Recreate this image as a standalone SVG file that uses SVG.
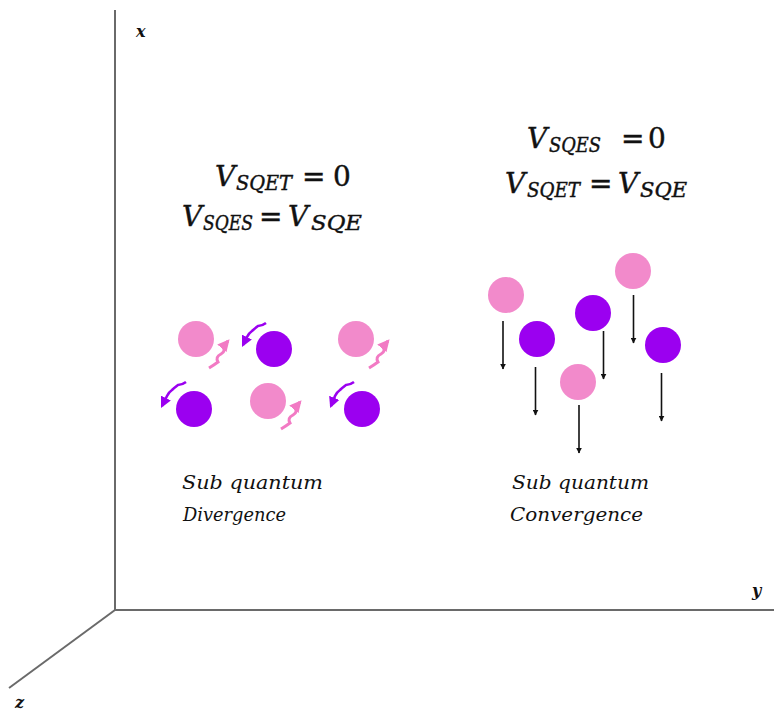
<svg xmlns="http://www.w3.org/2000/svg" width="774" height="711" viewBox="0 0 774 711">
<style>
.axis{stroke:#6a6a6a;stroke-width:2;fill:none}
.pink{fill:#F28ACB}
.purple{fill:#9B00F0}
.drop{stroke:#111;stroke-width:1.6;fill:none}
.eq{font-family:'DejaVu Serif','Liberation Serif',serif;font-size:28px;fill:#111;stroke:#111;stroke-width:0.4}
.it{font-style:italic}
.sub{font-family:'DejaVu Serif','Liberation Serif',serif;font-style:italic;font-size:20px;fill:#111;stroke:#111;stroke-width:0.4}
.lab{font-family:'DejaVu Serif','Liberation Serif',serif;font-style:italic;font-size:18px;fill:#111}
.ax{font-family:'DejaVu Serif','Liberation Serif',serif;font-style:italic;font-weight:bold;font-size:16px;fill:#111}
.parrow{stroke:#F27AC4;stroke-width:3;fill:none}
.varrow{stroke:#9B00F0;stroke-width:2.6;fill:none}
</style>
<defs>
<marker id="blk" viewBox="0 0 10 10" refX="9" refY="5" markerWidth="6" markerHeight="6" markerUnits="userSpaceOnUse" orient="auto"><path d="M0,0 L10,5 L0,10 z" fill="#111"/></marker>
<marker id="pk" viewBox="0 0 10 10" refX="8" refY="5" markerWidth="12" markerHeight="12" markerUnits="userSpaceOnUse" orient="auto"><path d="M0,0 L10,5 L0,10 z" fill="#F27AC4"/></marker>
<marker id="pu" viewBox="0 0 10 10" refX="8" refY="5" markerWidth="11" markerHeight="11" markerUnits="userSpaceOnUse" orient="auto"><path d="M0,0 L10,5 L0,10 z" fill="#9B00F0"/></marker>
</defs>
<rect width="774" height="711" fill="#fff"/>
<g id="axes">
<line class="axis" x1="115" y1="10" x2="115" y2="610"/>
<line class="axis" x1="114" y1="610" x2="774" y2="610"/>
<line class="axis" x1="115" y1="610" x2="9" y2="688" stroke-width="1.6"/>
<text class="ax" x="136" y="37">x</text>
<text class="ax" x="752" y="596">y</text>
<text class="ax" x="15" y="708">z</text>
</g>
<g id="left-equations">
<text class="eq"><tspan class="it" x="215" y="186">V</tspan><tspan class="sub" x="236" y="190" textLength="56" lengthAdjust="spacingAndGlyphs">SQET</tspan><tspan x="302" y="186">=</tspan><tspan x="333" y="186">0</tspan></text>
<text class="eq"><tspan class="it" x="182" y="226">V</tspan><tspan class="sub" x="203" y="230" textLength="50" lengthAdjust="spacingAndGlyphs">SQES</tspan><tspan x="259" y="226">=</tspan><tspan class="it" x="288" y="226">V</tspan><tspan class="sub" x="311" y="230" textLength="51" lengthAdjust="spacingAndGlyphs">SQE</tspan></text>
</g>
<g id="right-equations">
<text class="eq"><tspan class="it" x="527" y="148">V</tspan><tspan class="sub" x="549" y="152" textLength="52" lengthAdjust="spacingAndGlyphs">SQES</tspan><tspan x="621" y="148">=</tspan><tspan x="648" y="148">0</tspan></text>
<text class="eq"><tspan class="it" x="505" y="193">V</tspan><tspan class="sub" x="527" y="197" textLength="53" lengthAdjust="spacingAndGlyphs">SQET</tspan><tspan x="589" y="193">=</tspan><tspan class="it" x="618" y="193">V</tspan><tspan class="sub" x="640" y="197" textLength="47" lengthAdjust="spacingAndGlyphs">SQE</tspan></text>
</g>
<g id="divergence-particles">
<circle class="pink" cx="196" cy="339" r="18"/>
<circle class="purple" cx="274" cy="349" r="18"/>
<circle class="pink" cx="356" cy="339" r="18"/>
<circle class="purple" cx="194" cy="409" r="18"/>
<circle class="pink" cx="268" cy="401" r="18"/>
<circle class="purple" cx="362" cy="409" r="18"/>
</g>
<g id="connectors">
<path class="parrow" marker-end="url(#pk)" d="M209,368 Q214,365 218,362 Q215,357 221,354 Q226,351 223,347 L228,341"/>
<path class="parrow" marker-end="url(#pk)" d="M369,368 Q374,365 378,362 Q375,357 381,354 Q386,351 383,347 L388,341"/>
<path class="parrow" marker-end="url(#pk)" d="M281,429 Q286,426 290,423 Q287,418 293,415 Q298,412 295,408 L300,402"/>
<path class="varrow" marker-end="url(#pu)" d="M266,323 Q262,326 258,326 Q254,329 252,331 Q249,333 247,337 L243,345"/>
<path class="varrow" marker-end="url(#pu)" d="M186,382 Q182,385 178,385 Q174,388 172,390 Q169,392 167,396 L162,406"/>
<path class="varrow" marker-end="url(#pu)" d="M354,382 Q350,385 346,385 Q342,388 340,390 Q337,392 335,396 L331,406"/>
<line class="drop" marker-end="url(#blk)" x1="503" y1="321" x2="503" y2="369"/>
<line class="drop" marker-end="url(#blk)" x1="535.5" y1="367" x2="535.5" y2="415"/>
<line class="drop" marker-end="url(#blk)" x1="579" y1="405" x2="579" y2="453"/>
<line class="drop" marker-end="url(#blk)" x1="603.5" y1="331" x2="603.5" y2="379"/>
<line class="drop" marker-end="url(#blk)" x1="633.5" y1="295" x2="633.5" y2="343"/>
<line class="drop" marker-end="url(#blk)" x1="661.5" y1="373" x2="661.5" y2="421"/>
</g>
<g id="convergence-particles">
<circle class="pink" cx="506" cy="295" r="18"/>
<circle class="purple" cx="537" cy="339" r="18"/>
<circle class="pink" cx="578" cy="382" r="18"/>
<circle class="purple" cx="593" cy="313" r="18"/>
<circle class="pink" cx="633" cy="271" r="18"/>
<circle class="purple" cx="663" cy="345" r="18"/>
</g>
<g id="labels">
<text class="lab" x="182" y="489" textLength="141" lengthAdjust="spacingAndGlyphs">Sub quantum</text>
<text class="lab" x="183" y="521" textLength="103" lengthAdjust="spacingAndGlyphs">Divergence</text>
<text class="lab" x="512" y="489" textLength="137" lengthAdjust="spacingAndGlyphs">Sub quantum</text>
<text class="lab" x="510" y="521" textLength="133" lengthAdjust="spacingAndGlyphs">Convergence</text>
</g>
</svg>
